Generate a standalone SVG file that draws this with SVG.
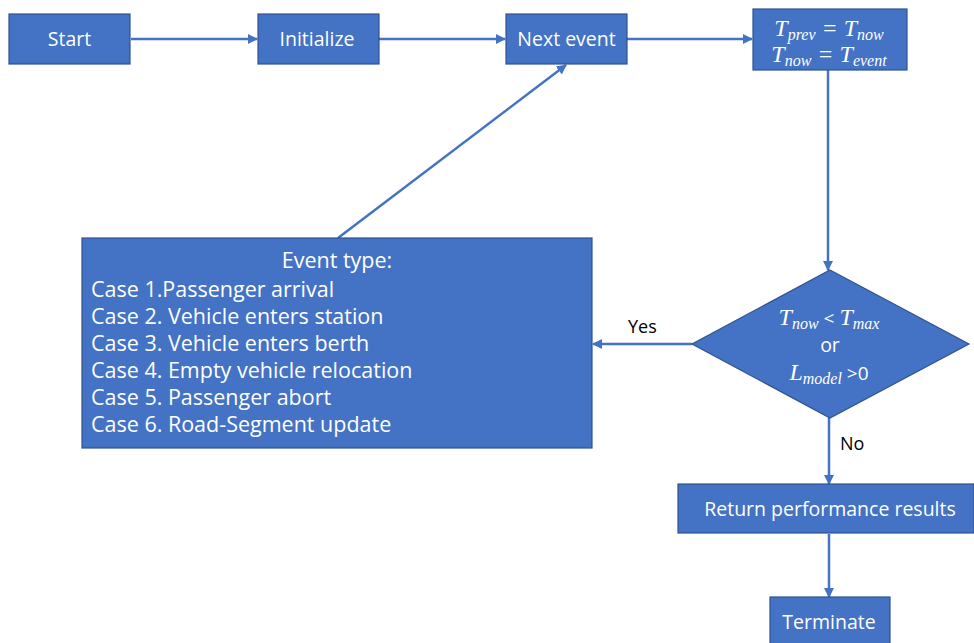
<svg xmlns="http://www.w3.org/2000/svg" width="974" height="643" viewBox="0 0 974 643">
<style>
.box{fill:#4472C4;stroke:#2F528F;stroke-width:1.2}
.t{font-family:"Open Sans","Segoe UI","Liberation Sans",Arial,sans-serif;fill:#fff;font-size:19.5px}
.m{font-family:"Liberation Serif","Times New Roman",serif;font-style:italic;fill:#fff;font-size:24px}
.s{font-size:16px}
.n{font-style:normal;font-family:"Open Sans","Liberation Sans",sans-serif;font-size:19px}
.c{fill:none;stroke:#4472C4;stroke-width:2.5}
.lbl{font-family:"Open Sans","Segoe UI","Liberation Sans",Arial,sans-serif;fill:#000;font-size:18px}
.case{font-size:21.5px}
</style>
<defs>
<marker id="ah" viewBox="0 0 10 10" refX="9" refY="5" markerWidth="4" markerHeight="4" orient="auto" markerUnits="strokeWidth">
<path d="M0,0 L10,5 L0,10 z" fill="#4472C4"/>
</marker>
</defs>
<g id="connectors">
<line class="c" x1="131" y1="39" x2="257" y2="39" marker-end="url(#ah)"/>
<line class="c" x1="379" y1="39" x2="505" y2="39" marker-end="url(#ah)"/>
<line class="c" x1="627" y1="39" x2="752" y2="39" marker-end="url(#ah)"/>
<line class="c" x1="828" y1="70" x2="828" y2="270" marker-end="url(#ah)"/>
<line class="c" x1="692" y1="344" x2="593" y2="344" marker-end="url(#ah)"/>
<line class="c" x1="829" y1="418" x2="829" y2="484" marker-end="url(#ah)"/>
<line class="c" x1="829" y1="534" x2="829" y2="597" marker-end="url(#ah)"/>
<line class="c" x1="338" y1="238" x2="566" y2="65" marker-end="url(#ah)"/>
<text class="lbl" x="628" y="333">Yes</text>
<text class="lbl" x="840" y="450">No</text>
</g>
<g id="start">
<rect class="box" x="9" y="14" width="121" height="50"/>
<text class="t" x="69.5" y="46" text-anchor="middle">Start</text>
</g>
<g id="initialize">
<rect class="box" x="258" y="14" width="121" height="50"/>
<text class="t" x="317" y="46" text-anchor="middle">Initialize</text>
</g>
<g id="next-event">
<rect class="box" x="506" y="14" width="121" height="50"/>
<text class="t" x="566.5" y="46" text-anchor="middle">Next event</text>
</g>
<g id="time-update">
<rect class="box" x="753" y="9" width="154" height="61"/>
<text class="m" x="829" y="36" text-anchor="middle">T<tspan class="s" dy="4">prev</tspan><tspan dy="-4"> = T</tspan><tspan class="s" dy="4">now</tspan></text>
<text class="m" x="829" y="62" text-anchor="middle">T<tspan class="s" dy="4">now</tspan><tspan dy="-4"> = T</tspan><tspan class="s" dy="4">event</tspan></text>
</g>
<g id="decision">
<polygon class="box" points="830,270 969,344 830,418 692,344"/>
<text class="m" x="829" y="325" text-anchor="middle">T<tspan class="s" dy="4">now</tspan><tspan class="n" dy="-4"> &lt; </tspan>T<tspan class="s" dy="4">max</tspan></text>
<text class="t" x="830" y="352" text-anchor="middle">or</text>
<text class="m" x="829" y="380" text-anchor="middle">L<tspan class="s" dy="4">model</tspan><tspan class="n" dy="-4"> &gt;0</tspan></text>
</g>
<g id="event-type">
<rect class="box" x="82" y="238" width="510" height="210"/>
<text class="t case" x="337" y="268" text-anchor="middle">Event type:</text>
<text class="t case" x="91" y="297">Case 1.Passenger arrival</text>
<text class="t case" x="91" y="324">Case 2. Vehicle enters station</text>
<text class="t case" x="91" y="351">Case 3. Vehicle enters berth</text>
<text class="t case" x="91" y="378">Case 4. Empty vehicle relocation</text>
<text class="t case" x="91" y="405">Case 5. Passenger abort</text>
<text class="t case" x="91" y="432">Case 6. Road-Segment update</text>
</g>
<g id="return-results">
<rect class="box" x="678" y="484" width="296" height="49"/>
<text class="t" x="830" y="516" font-size="20.5" text-anchor="middle">Return performance results</text>
</g>
<g id="terminate">
<rect class="box" x="770" y="597" width="120" height="50"/>
<text class="t" x="829" y="629" text-anchor="middle">Terminate</text>
</g>
</svg>
